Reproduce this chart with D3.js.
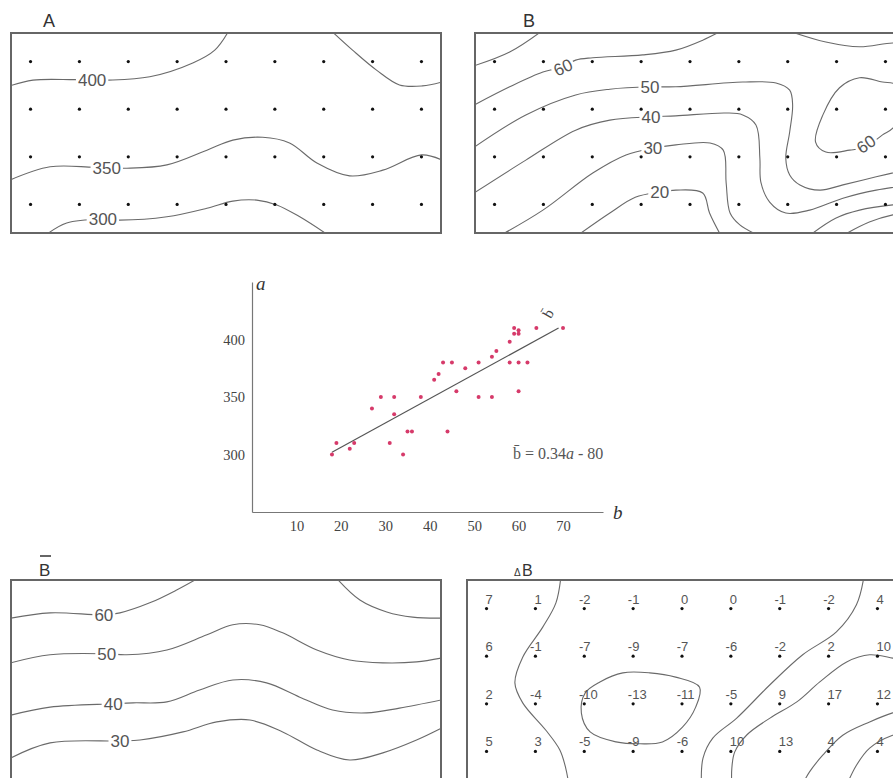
<!DOCTYPE html>
<html><head><meta charset="utf-8">
<script src="https://cdn.jsdelivr.net/npm/d3@7"></script>
<style>body{margin:0;background:#fff} svg{display:block}</style>
</head><body>
<script>
// ================= DATA =================
// station grid (columns x rows)
const gridCols = [0,1,2,3,4,5,6,7,8];
const gridRows = [0,1,2,3];

// contour polylines in station-grid units [col,row]
const contoursA = [
  {level:"400", label:[1.26,0.39], pts:[[-0.45,0.52],[0.05,0.39],[0.9,0.38],[1.6,0.39],[2.44,0.32],[3.32,0.03],[3.77,-0.24],[4.06,-0.65]]},
  {pts:[[6.15,-0.65],[6.59,-0.24],[7.08,0.18],[7.55,0.49],[8.02,0.51],[8.45,0.42]]},
  {level:"350", label:[1.56,2.24], pts:[[-0.45,2.5],[0.4,2.21],[1.3,2.22],[1.97,2.24],[2.79,2.17],[3.61,1.86],[4.14,1.65],[4.75,1.59],[5.3,1.71],[5.86,2.13],[6.53,2.4],[7.21,2.28],[8.0,1.96],[8.45,2.08]]},
  {level:"300", label:[1.48,3.31], pts:[[0.3,3.65],[0.74,3.39],[1.48,3.31],[1.83,3.33],[2.79,3.26],[3.61,3.08],[4.14,2.93],[4.63,2.91],[5.04,3.01],[5.51,3.26],[6.1,3.65]]}
];
const contoursB = [
  {pts:[[-0.45,0.1],[0.31,-0.2],[0.98,-0.65]]},
  {level:"60", label:[1.4,0.12], angle:-25, pts:[[-0.45,0.93],[0.31,0.53],[0.99,0.22],[1.4,0.11],[1.66,-0.03],[2.01,-0.08],[3.03,-0.14],[3.71,-0.24],[4.26,-0.45],[4.65,-0.65]]},
  {pts:[[6.0,-0.65],[6.78,-0.41],[7.47,-0.31],[8.15,-0.39],[8.45,-0.35]]},
  {level:"50", label:[3.18,0.53], pts:[[-0.45,1.82],[0.64,1.12],[1.66,0.7],[2.36,0.58],[3.18,0.53],[3.71,0.53],[5.08,0.43],[5.76,0.45],[6.04,0.6],[6.1,0.91],[6.04,1.48],[5.96,2.03],[6.04,2.38],[6.25,2.59],[6.66,2.7],[7.13,2.59],[7.81,2.42],[8.45,2.27]]},
  {level:"40", label:[3.2,1.16], pts:[[-0.45,2.78],[0.64,2.07],[1.66,1.44],[2.36,1.23],[3.2,1.16],[3.71,1.14],[4.73,1.08],[5.08,1.12],[5.35,1.33],[5.43,2.03],[5.45,2.53],[5.63,2.95],[5.96,3.18],[6.45,3.12],[7.13,2.87],[7.81,2.7],[8.45,2.6]]},
  {level:"30", label:[3.24,1.82], pts:[[0.12,3.65],[0.99,3.12],[2.01,2.34],[2.69,1.96],[3.24,1.82],[3.71,1.75],[4.41,1.71],[4.68,1.86],[4.74,2.55],[4.82,3.18],[5.02,3.43],[5.4,3.65]]},
  {level:"20", label:[3.38,2.74], pts:[[1.7,3.65],[2.36,3.18],[2.88,2.85],[3.38,2.74],[3.71,2.7],[4.26,2.76],[4.4,3.18],[4.63,3.65]]},
  {pts:[[6.45,3.65],[6.98,3.29],[7.47,3.12],[8.15,3.01],[8.45,2.99]]},
  {pts:[[7.13,3.65],[7.67,3.37],[8.15,3.22],[8.45,3.18]]},
  {level:"60", label:[7.6,1.73], angle:-35, closed:true, pts:[[7.94,0.43],[7.47,0.34],[7.06,0.55],[6.72,1.12],[6.57,1.69],[6.78,1.9],[7.27,1.86],[7.6,1.79],[7.94,1.54],[8.15,1.4],[8.33,1.06],[8.33,0.64],[8.19,0.47]]}
];
const contoursBbar = [
  {level:"60", label:[1.5,0.13], pts:[[-0.45,0.21],[0.4,0.09],[1.5,0.13],[1.83,0.09],[2.44,-0.12],[2.99,-0.39],[3.45,-0.65]]},
  {pts:[[6.25,-0.65],[6.74,-0.18],[7.29,0.07],[7.82,0.18],[8.45,0.2]]},
  {level:"50", label:[1.56,0.95], pts:[[-0.45,1.15],[0.4,0.97],[1.56,0.95],[1.97,0.97],[2.79,0.87],[3.61,0.55],[4.14,0.34],[4.69,0.34],[5.16,0.51],[5.86,0.87],[6.53,1.08],[7.21,1.14],[7.9,1.12],[8.45,1.03]]},
  {level:"40", label:[1.69,2.0], pts:[[-0.45,2.25],[0.4,2.07],[1.69,2.0],[2.1,1.98],[2.79,1.96],[3.46,1.71],[4.14,1.5],[4.83,1.56],[5.51,1.86],[6.18,2.13],[6.88,2.19],[7.55,2.09],[8.45,1.91]]},
  {level:"30", label:[1.83,2.78], pts:[[-0.45,3.16],[0.4,2.82],[1.83,2.78],[2.24,2.76],[3.12,2.59],[3.81,2.38],[4.49,2.34],[5.16,2.59],[5.86,2.97],[6.53,3.18],[7.21,3.03],[7.9,2.76],[8.45,2.49]]}
];
const contoursDeltaB = [
  {pts:[[1.52,-0.65],[1.42,-0.12],[1.15,0.39],[0.74,1.02],[0.58,1.56],[0.74,1.98],[1.21,2.55],[1.5,2.97],[1.62,3.35],[1.7,3.8]]},
  {closed:true, pts:[[2.32,1.54],[2.79,1.35],[3.34,1.35],[3.87,1.44],[4.36,1.65],[4.28,2.07],[4.01,2.49],[3.6,2.8],[3.14,2.84],[2.65,2.8],[2.12,2.59],[1.94,2.19],[2.02,1.77]]},
  {pts:[[7.72,-0.65],[7.57,-0.08],[7.16,0.49],[6.47,0.97],[5.8,1.6],[5.12,2.3],[4.63,2.72],[4.43,3.14],[4.4,3.8]]},
  {pts:[[8.5,1.08],[8.31,1.04],[7.84,0.97],[7.37,1.12],[6.82,1.54],[6.35,1.96],[5.8,2.3],[5.33,2.65],[5.08,3.01],[5.02,3.35],[5.02,3.8]]},
  {pts:[[8.5,2.15],[8.31,2.19],[7.84,2.38],[7.29,2.66],[6.88,3.08],[6.61,3.43],[6.41,3.8]]},
  {pts:[[8.5,2.62],[8.31,2.66],[7.84,2.93],[7.57,3.29],[7.33,3.8]]}
];
// ΔB station values, rows top->bottom
const deltaBValues = [
  [7,1,-2,-1,0,0,-1,-2,4],
  [6,-1,-7,-9,-7,-6,-2,2,10],
  [2,-4,-10,-13,-11,-5,9,17,12],
  [5,3,-5,-9,-6,10,13,4,4]
];

// scatter: b (x) vs a (y)
const scatterB = [18,19,22,23,27,29,31,32,32,34,35,36,38,41,42,43,44,45,46,48,51,51,54,54,55,58,58,59,59,60,60,60,60,62,64,70];
const scatterA = [300,310,305,310,340,350,310,350,335,300,320,320,350,365,370,380,320,380,355,375,380,350,385,350,390,398,380,410,405,408,405,380,355,380,410,410];
const regB = [18,69];
const regA = [302,410];
const xTicks = [10,20,30,40,50,60,70];
const yTicks = [300,350,400];

// ================= DRAW =================
const W = 893, H = 778;
const svg = d3.select("body").append("svg").attr("width", W).attr("height", H)
  .style("font-family", "'Liberation Sans', Arial, sans-serif");

const LINE = "#6a6a6a";

function addLabel(g, x, y, txt, angle, size) {
  const lg = g.append("g").attr("transform", `translate(${x},${y}) rotate(${angle || 0})`);
  const r = lg.append("rect").attr("fill", "#fff");
  const t = lg.append("text").attr("text-anchor", "middle").attr("dy", "0.36em")
    .attr("font-size", size).attr("fill", "#555").text(txt);
  const bb = t.node().getBBox();
  r.attr("x", bb.x - 2).attr("y", bb.y + 2).attr("width", bb.width + 4).attr("height", bb.height - 4);
}

function panel(opt) {
  const x = d3.scaleLinear().domain([-0.4, 8.4]).range([opt.left, opt.left + 430]);
  const y = d3.scaleLinear().domain([-0.6, 3.6]).range([opt.top, opt.top + 200]);
  const cid = "clip" + opt.id;
  svg.append("clipPath").attr("id", cid).append("rect")
    .attr("x", opt.left).attr("y", opt.top).attr("width", 430).attr("height", 200);
  const g = svg.append("g").attr("clip-path", `url(#${cid})`);
  const lineOpen = d3.line().x(d => x(d[0])).y(d => y(d[1])).curve(d3.curveCatmullRom.alpha(0.5));
  const lineClosed = d3.line().x(d => x(d[0])).y(d => y(d[1])).curve(d3.curveCatmullRomClosed.alpha(0.5));
  g.selectAll("path.c").data(opt.contours).join("path").attr("class", "c")
    .attr("d", d => (d.closed ? lineClosed : lineOpen)(d.pts))
    .attr("fill", "none").attr("stroke", LINE).attr("stroke-width", 1.1);
  opt.contours.filter(d => d.label).forEach(d => addLabel(g, x(d.label[0]), y(d.label[1]), d.level, d.angle, 17));
  if (opt.dots) {
    const pts = [];
    gridRows.forEach(r => gridCols.forEach(c => pts.push([c, r])));
    g.selectAll("circle.dot").data(pts).join("circle").attr("class", "dot")
      .attr("cx", d => x(d[0])).attr("cy", d => y(d[1])).attr("r", 1.6).attr("fill", "#111");
  }
  if (opt.values) {
    const vals = [];
    opt.values.forEach((row, r) => row.forEach((v, c) => vals.push({c, r, v})));
    g.selectAll("text.val").data(vals).join("text").attr("class", "val")
      .attr("x", d => x(d.c) - 1 - (d.v < 0 ? 4.3 : 0)).attr("y", d => y(d.r) - 5)
      .attr("font-size", 13).attr("fill", "#555").text(d => d.v);
  }
  svg.append("rect").attr("x", opt.left).attr("y", opt.top).attr("width", 430).attr("height", 200)
    .attr("fill", "none").attr("stroke", "#666").attr("stroke-width", 2);
}

panel({id: "A", left: 11, top: 33, contours: contoursA, dots: true});
panel({id: "B", left: 475, top: 33, contours: contoursB, dots: true});
panel({id: "Bbar", left: 11, top: 580, contours: contoursBbar, dots: false});
panel({id: "dB", left: 467, top: 580, contours: contoursDeltaB, dots: true, values: deltaBValues});

// titles
svg.append("text").attr("x", 43).attr("y", 27).attr("font-size", 18).attr("fill", "#333").text("A");
svg.append("text").attr("x", 523).attr("y", 27).attr("font-size", 18).attr("fill", "#333").text("B");
svg.append("text").attr("x", 39).attr("y", 576).attr("font-size", 17).attr("fill", "#333").text("B");
svg.append("line").attr("x1", 40).attr("x2", 51).attr("y1", 556).attr("y2", 556).attr("stroke", "#333").attr("stroke-width", 1.5);
svg.append("text").attr("x", 514).attr("y", 576).attr("font-size", 10).attr("fill", "#333").text("Δ");
svg.append("text").attr("x", 522).attr("y", 576).attr("font-size", 16).attr("fill", "#333").text("B");

// ---- scatter ----
const sx = d3.scaleLinear().domain([0, 79]).range([252, 603]);
const sy = d3.scaleLinear().domain([250, 450]).range([512, 282]);
const serif = "'Liberation Serif', 'Times New Roman', serif";
const gx = svg.append("g").attr("transform", "translate(0,512)")
  .call(d3.axisBottom(sx).tickValues(xTicks).tickSize(0).tickPadding(9).tickSizeOuter(0));
const gy = svg.append("g").attr("transform", "translate(252,0)")
  .call(d3.axisLeft(sy).tickValues(yTicks).tickSize(0).tickPadding(7).tickSizeOuter(0));
[gx, gy].forEach(g => {
  g.select(".domain").attr("stroke", "#777").attr("stroke-width", 1.2);
  g.selectAll("text").attr("font-family", serif).attr("font-size", 14.5).attr("fill", "#444");
});
svg.append("text").attr("x", 256).attr("y", 290).attr("font-family", serif).attr("font-style", "italic")
  .attr("font-size", 19).attr("fill", "#333").text("a");
svg.append("text").attr("x", 613).attr("y", 519).attr("font-family", serif).attr("font-style", "italic")
  .attr("font-size", 19).attr("fill", "#333").text("b");

svg.append("line").attr("x1", sx(regB[0])).attr("y1", sy(regA[0])).attr("x2", sx(regB[1])).attr("y2", sy(regA[1]))
  .attr("stroke", "#555").attr("stroke-width", 1.2);

svg.append("g").selectAll("circle").data(scatterB.map((b, i) => [b, scatterA[i]])).join("circle")
  .attr("cx", d => sx(d[0])).attr("cy", d => sy(d[1])).attr("r", 2).attr("fill", "#d63a6a");

svg.append("text").attr("transform", `translate(${sx(regB[1]) - 6},${sy(regA[1]) - 12}) rotate(-60)`)
  .attr("text-anchor", "middle").attr("font-family", serif).attr("font-size", 15).attr("fill", "#444").text("b\u0304");

const eq = svg.append("text").attr("x", 513).attr("y", 459).attr("font-family", serif)
  .attr("font-size", 16).attr("fill", "#555");
eq.append("tspan").text("b\u0304 = 0.34");
eq.append("tspan").attr("font-style", "italic").text("a");
eq.append("tspan").text(" - 80");
</script>
</body></html>
